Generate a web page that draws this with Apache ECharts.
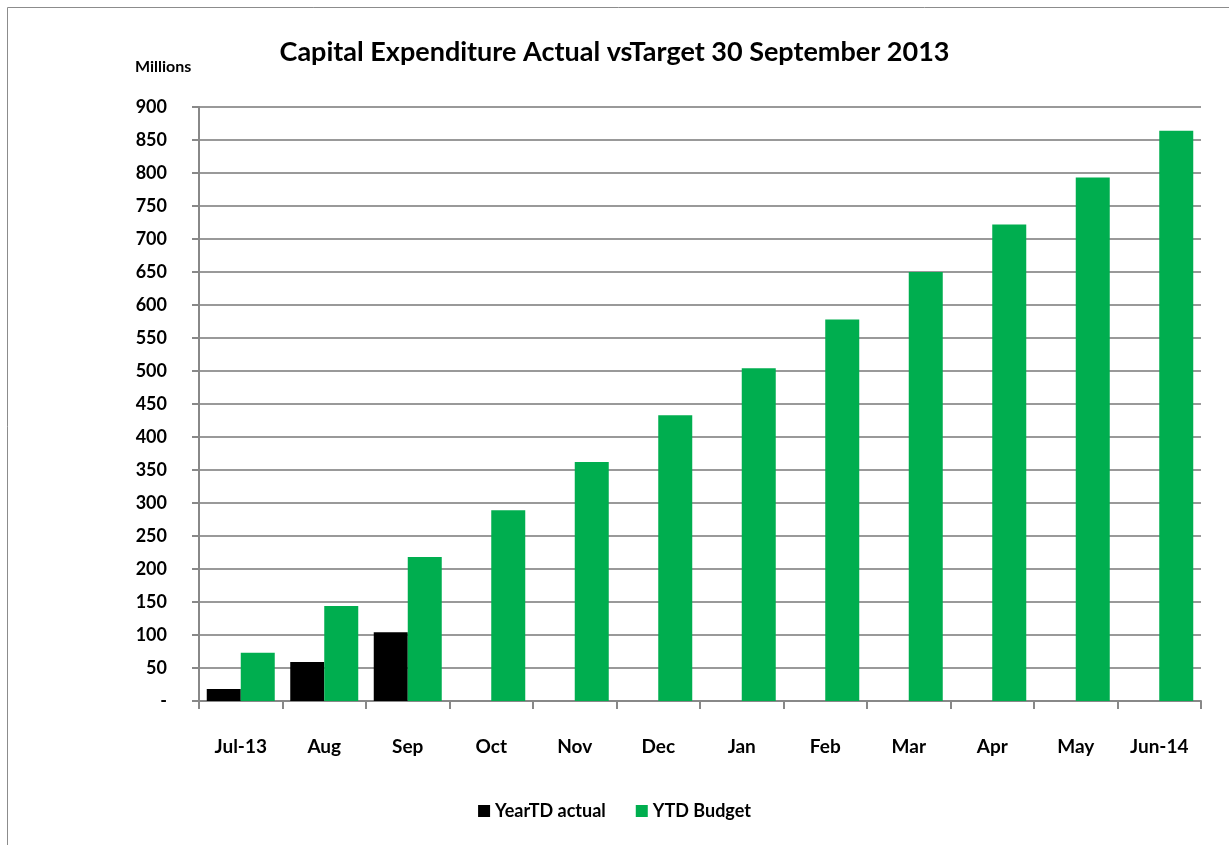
<!DOCTYPE html>
<html>
<head>
<meta charset="utf-8">
<script src="https://cdn.jsdelivr.net/npm/echarts@6/dist/echarts.min.js"></script>
<style>
    html, body {margin: 0; padding: 0; background: #fff;}
    #chart {width: 1229px; height: 845px;}
</style>
</head>
<body>
<div id="chart"></div>
<script>
var months = ['Jul-13', 'Aug', 'Sep', 'Oct', 'Nov', 'Dec', 'Jan', 'Feb', 'Mar', 'Apr', 'May', 'Jun-14'];
var actual = [18, 59, 104, null, null, null, null, null, null, null, null, null];
var budget = [73, 144, 218, 289, 362, 433, 504, 578, 650, 722, 793, 864];

var font = 'Lato, "Open Sans", sans-serif';
var myChart = echarts.init(document.getElementById('chart'));
myChart.setOption({
    animation: false,
    textStyle: {fontFamily: font},
    title: [{
        text: 'Capital Expenditure Actual vsTarget 30 September 2013',
        left: 'center',
        top: 34,
        textStyle: {fontSize: 27, fontWeight: 'bold', color: '#000', fontFamily: font}
    }, {
        text: 'Millions',
        left: 130,
        top: 54,
        textStyle: {fontSize: 16, fontWeight: 'bold', color: '#000', fontFamily: font}
    }],
    graphic: [{
        type: 'rect',
        shape: {x: 7.5, y: 7.5, width: 1300, height: 900},
        style: {fill: 'none', stroke: '#8c8c8c', lineWidth: 1},
        silent: true
    }],
    legend: {
        bottom: 20,
        left: 'center',
        itemWidth: 12,
        itemHeight: 12,
        itemGap: 30,
        icon: 'rect',
        textStyle: {fontSize: 18, fontWeight: 'bold', color: '#000', fontFamily: font}
    },
    grid: {left: 199, right: 28, top: 107, bottom: 144},
    xAxis: {
        type: 'category',
        data: months,
        axisLine: {lineStyle: {color: '#888', width: 2}},
        axisTick: {show: true, length: 8, lineStyle: {color: '#888', width: 2}},
        axisLabel: {fontSize: 19, fontWeight: 'bold', color: '#000', margin: 36}
    },
    yAxis: {
        type: 'value',
        min: 0,
        max: 900,
        interval: 50,
        axisLine: {show: true, lineStyle: {color: '#888', width: 2}},
        axisTick: {show: true, length: 7, lineStyle: {color: '#888', width: 2}},
        splitLine: {lineStyle: {color: '#999', width: 2}},
        axisLabel: {
            fontSize: 18, fontWeight: 'bold', color: '#000', margin: 32,
            formatter: function (v) { return v === 0 ? '-' : v; }
        }
    },
    series: [{
        name: 'YearTD actual',
        type: 'bar',
        data: actual,
        barWidth: 34,
        barGap: '0%',
        itemStyle: {color: '#000000'}
    }, {
        name: 'YTD Budget',
        type: 'bar',
        data: budget,
        barWidth: 34,
        itemStyle: {color: '#00ae4f'}
    }]
});
</script>
</body>
</html>
